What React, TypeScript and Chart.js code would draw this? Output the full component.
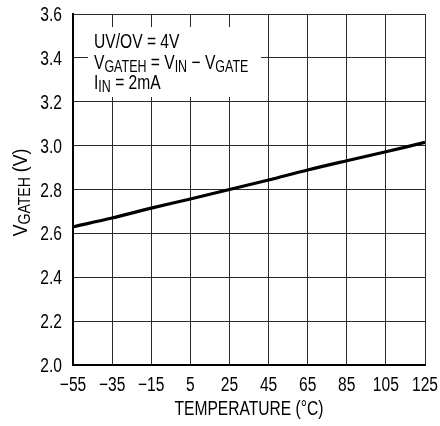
import React, { useEffect, useRef } from "react";
import { Chart, registerables } from "chart.js";

Chart.register(...registerables);

const temperatures = [-55, -35, -15, 5, 25, 45, 65, 85, 105, 125];
const vgateh = [2.63, 2.67, 2.715, 2.757, 2.8, 2.843, 2.889, 2.931, 2.972, 3.015];
const xTickValues = [-55, -35, -15, 5, 25, 45, 65, 85, 105, 125];
const yTickValues = [2.0, 2.2, 2.4, 2.6, 2.8, 3.0, 3.2, 3.4, 3.6];
const xTitle = "TEMPERATURE (°C)";
const yTitle = [{ t: "V" }, { t: "GATEH", sub: true }, { t: " (V)" }];
const noteLines = [
  [{ t: "UV/OV = 4V" }],
  [{ t: "V" }, { t: "GATEH", sub: true }, { t: " = V" }, { t: "IN", sub: true }, { t: " \u2212 V" }, { t: "GATE", sub: true }],
  [{ t: "I" }, { t: "IN", sub: true }, { t: " = 2mA" }],
];

const FAMILY = "'Liberation Sans', Arial, sans-serif";
const MAIN = `20px ${FAMILY}`;
const SUB = `16px ${FAMILY}`;
const SX = 0.78; // condensed look
const INK = "#000000";

type Seg = { t: string; sub?: boolean };

function richWidth(ctx: CanvasRenderingContext2D, segs: Seg[]) {
  let w = 0;
  for (const s of segs) {
    ctx.font = s.sub ? SUB : MAIN;
    w += ctx.measureText(s.t).width;
  }
  return w;
}

function drawRichRaw(ctx: CanvasRenderingContext2D, segs: Seg[], x: number, y: number) {
  let cx = x;
  ctx.textBaseline = "alphabetic";
  ctx.textAlign = "left";
  for (const s of segs) {
    ctx.font = s.sub ? SUB : MAIN;
    ctx.fillText(s.t, cx, s.sub ? y + 3 : y);
    cx += ctx.measureText(s.t).width;
  }
}

function drawCondensed(
  ctx: CanvasRenderingContext2D,
  text: string,
  x: number,
  y: number,
  align: CanvasTextAlign
) {
  ctx.save();
  ctx.translate(x, y);
  ctx.scale(SX, 1);
  ctx.font = MAIN;
  ctx.textAlign = align;
  ctx.textBaseline = "alphabetic";
  ctx.fillText(text, 0, 0);
  ctx.restore();
}

const overlayPlugin = {
  id: "overlay",
  beforeDatasetsDraw(chart: any) {
    const ctx: CanvasRenderingContext2D = chart.ctx;
    const area = chart.chartArea;
    ctx.save();
    ctx.fillStyle = "#ffffff";
    ctx.fillRect(area.left + 15, area.top + 13, 173, 70);
    ctx.fillStyle = INK;
    const baselines = [48, 69, 89];
    noteLines.forEach((segs, i) => {
      ctx.save();
      ctx.translate(area.left + 21, baselines[i]);
      ctx.scale(SX, 1);
      drawRichRaw(ctx, segs as Seg[], 0, 0);
      ctx.restore();
    });
    ctx.restore();
  },
  afterDraw(chart: any) {
    const ctx: CanvasRenderingContext2D = chart.ctx;
    const area = chart.chartArea;
    const xs = chart.scales.x;
    const ys = chart.scales.y;
    ctx.save();
    ctx.fillStyle = INK;
    xTickValues.forEach((v) => {
      const label = v < 0 ? "\u2212" + Math.abs(v) : String(v);
      drawCondensed(ctx, label, xs.getPixelForValue(v), area.bottom + 26, "center");
    });
    yTickValues.forEach((v) => {
      drawCondensed(ctx, v.toFixed(1), area.left - 11, ys.getPixelForValue(v) + 7, "right");
    });
    drawCondensed(ctx, xTitle, (area.left + area.right) / 2, 415, "center");
    // y title rotated
    const sy = 0.88;
    const w = richWidth(ctx, yTitle as Seg[]);
    const cy = (area.top + area.bottom) / 2 + 3;
    ctx.translate(27, cy);
    ctx.rotate(-Math.PI / 2);
    ctx.scale(sy, 1);
    drawRichRaw(ctx, yTitle as Seg[], -w / 2, 0);
    ctx.restore();
  },
};

export default function App() {
  const ref = useRef<HTMLCanvasElement | null>(null);
  useEffect(() => {
    if (!ref.current) return;
    const chart = new Chart(ref.current, {
      type: "line",
      data: {
        datasets: [
          {
            data: temperatures.map((t, i) => ({ x: t, y: vgateh[i] })),
            borderColor: "#000000",
            borderWidth: 3.2,
            pointRadius: 0,
            tension: 0.3,
            fill: false,
          },
        ],
      },
      options: {
        animation: false,
        responsive: false,
        maintainAspectRatio: false,
        layout: { padding: { left: 0, right: 15, top: 14, bottom: 0 } },
        plugins: { legend: { display: false }, tooltip: { enabled: false } },
        scales: {
          x: {
            type: "linear",
            min: -55,
            max: 125,
            afterBuildTicks: (s: any) => {
              s.ticks = xTickValues.map((v) => ({ value: v }));
            },
            afterFit: (s: any) => {
              s.height = 61;
            },
            grid: { color: "#2a2a2a", lineWidth: 1, drawTicks: false },
            border: { color: "#000000", width: 2 },
            ticks: { display: false },
          },
          y: {
            type: "linear",
            min: 2.0,
            max: 3.6,
            afterBuildTicks: (s: any) => {
              s.ticks = yTickValues.map((v) => ({ value: v }));
            },
            afterFit: (s: any) => {
              s.width = 73;
            },
            grid: { color: "#2a2a2a", lineWidth: 1, drawTicks: false },
            border: { color: "#000000", width: 2 },
            ticks: { display: false },
          },
        },
      } as any,
      plugins: [overlayPlugin],
    });
    return () => chart.destroy();
  }, []);
  return (
    <div style={{ position: "fixed", left: 0, top: 0, width: 440, height: 426, background: "#fff" }}>
      <canvas ref={ref} width={440} height={426} style={{ display: "block" }} />
    </div>
  );
}
